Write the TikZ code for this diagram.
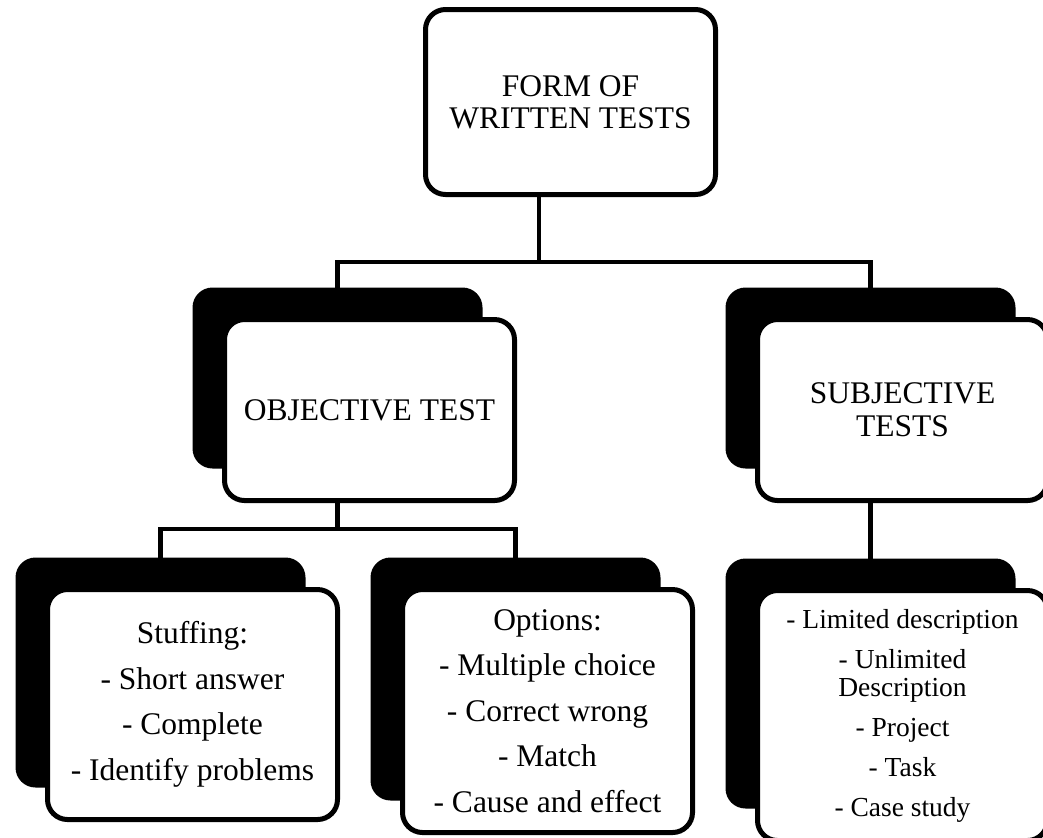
\documentclass[tikz,border=0pt]{standalone}
\usepackage{fontspec}
\setmainfont{Liberation Serif}
\usetikzlibrary{shadows}

\begin{document}
\begin{tikzpicture}[x=0.5pt, y=-0.5pt,
        card/.style={draw, fill=white, line width=2.5pt, rounded corners=10pt,
            align=center, minimum width=145pt, inner sep=0pt},
        shadowed/.style={drop shadow={shadow xshift=-16pt, shadow yshift=16pt,
            opacity=1, fill=black}},
        link/.style={line width=2.3pt}]
        \useasboundingbox (0,0) rectangle (1043,837);

        % Root
        \node[card, minimum height=92.5pt, font=\fontsize{15.75}{16}\selectfont]
            (form) at (570.5,102) {FORM OF\\WRITTEN TESTS};

        % Second level
        \node[card, shadowed, minimum height=90.5pt, font=\fontsize{15.75}{16}\selectfont]
            (obj) at (369.5,410) {OBJECTIVE TEST};
        \node[card, shadowed, minimum height=90.5pt, font=\fontsize{15.75}{16.5}\selectfont]
            (subj) at (902.5,410) {SUBJECTIVE\\TESTS};

        % Third level
        \node[card, shadowed, minimum height=115pt, font=\fontsize{15.75}{22.75}\selectfont]
            (stuff) at (192.5,704.5) {Stuffing:\\- Short answer\\- Complete\\- Identify problems};
        \node[card, shadowed, minimum height=121.5pt, font=\fontsize{15.75}{22.75}\selectfont]
            (opts) at (547.5,711) {Options:\\- Multiple choice\\- Correct wrong\\- Match\\- Cause and effect};
        \node[card, shadowed, minimum height=125pt, font=\fontsize{13.75}{14}\selectfont]
            (desc) at (902.5,715.5) {- Limited description\\[6pt]- Unlimited\\Description\\[6pt]- Project\\[6pt]- Task\\[6pt]- Case study};

        % Connectors
        \coordinate (fork1) at (539,262);
        \coordinate (fork2) at (337.5,529);
        \draw[link] (form.south -| fork1) -- (fork1);
        \draw[link] ([xshift=-16pt]obj.north) |- (fork1) -| ([xshift=-16pt]subj.north);
        \draw[link] ([xshift=-16pt]obj.south) -- (fork2);
        \draw[link] ([xshift=-16pt]stuff.north) |- (fork2) -| ([xshift=-16pt]opts.north);
        \draw[link] ([xshift=-16pt]subj.south) -- ([xshift=-16pt]desc.north);
    \end{tikzpicture}
\end{document}
